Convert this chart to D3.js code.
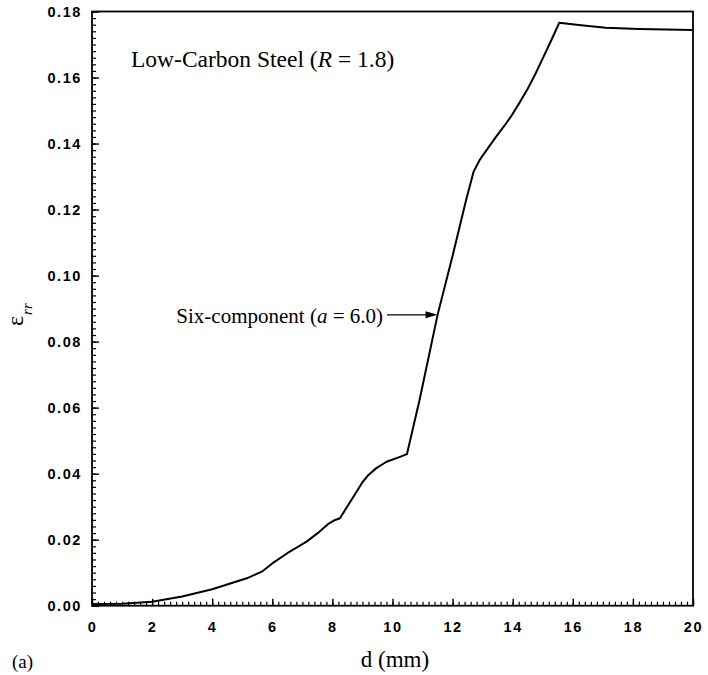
<!DOCTYPE html>
<html><head><meta charset="utf-8">
<script src="https://cdn.jsdelivr.net/npm/d3@7"></script>
<style>body{margin:0;background:#fff}svg{display:block}</style>
</head><body><svg id="c" width="708" height="675"></svg>
<script>
// Data
const dValues = [0, 1, 2, 3, 4, 5.15, 5.65, 6.0, 6.5, 7.14, 7.5, 7.85, 8.05, 8.25, 8.7, 9.0, 9.2, 9.45, 9.8, 10.25, 10.48, 10.9, 11.5, 12.0, 12.45, 12.7, 12.9, 13.2, 13.45, 13.75, 14.0, 14.25, 14.5, 14.75, 15.0, 15.3, 15.55, 16.2, 17.1, 18.2, 20];
const strainValues = [0.0005, 0.0006, 0.0012, 0.0028, 0.005, 0.0083, 0.0103, 0.0128, 0.0159, 0.0194, 0.0219, 0.0247, 0.0258, 0.0265, 0.0330, 0.0374, 0.0396, 0.0416, 0.0436, 0.0451, 0.0459, 0.0623, 0.0881, 0.106, 0.1229, 0.1315, 0.135, 0.1389, 0.1421, 0.1457, 0.1490, 0.1527, 0.1566, 0.1610, 0.1658, 0.1716, 0.1766, 0.1759, 0.1751, 0.1747, 0.1744];
const xTickValues = [0, 2, 4, 6, 8, 10, 12, 14, 16, 18, 20];
const yTickValues = [0, 0.02, 0.04, 0.06, 0.08, 0.10, 0.12, 0.14, 0.16, 0.18];
const xMinorStep = 0.2;
const yMinorStep = 0.002;
const titleText = ["Low-Carbon Steel (", "R", " = 1.8)"];
const annotationText = ["Six-component (", "a", " = 6.0)"];
const annotationPoint = {d: 11.5, v: 0.0881};

const W = 708, H = 675;
const margin = {left: 92, top: 11.5, right: 15, bottom: 69.3};
const svg = d3.select("#c");
const x = d3.scaleLinear().domain([0, 20]).range([margin.left, W - margin.right]);
const y = d3.scaleLinear().domain([0, 0.18]).range([H - margin.bottom, margin.top]);

const tickFont = "'Liberation Sans', Arial, sans-serif";
const serif = "'Liberation Serif', 'Times New Roman', serif";

// minor ticks
const xMinor = d3.range(0, 20 + 1e-9, xMinorStep);
const yMinor = d3.range(0, 0.18 + 1e-9, yMinorStep);
svg.append("g").attr("transform", `translate(0,${y(0)})`)
  .call(d3.axisBottom(x).tickValues(xMinor).tickSize(-4).tickFormat(""))
  .call(g => g.select(".domain").remove())
  .call(g => g.selectAll("line").attr("stroke", "#000").attr("stroke-width", 1.2));
svg.append("g").attr("transform", `translate(${x(0)},0)`)
  .call(d3.axisLeft(y).tickValues(yMinor).tickSize(-4).tickFormat(""))
  .call(g => g.select(".domain").remove())
  .call(g => g.selectAll("line").attr("stroke", "#000").attr("stroke-width", 1.2));

// major ticks with labels
svg.append("g").attr("transform", `translate(0,${y(0)})`)
  .call(d3.axisBottom(x).tickValues(xTickValues).tickSize(-7).tickPadding(16).tickFormat(d3.format("d")))
  .call(g => g.select(".domain").remove())
  .call(g => g.selectAll("line").attr("stroke", "#000").attr("stroke-width", 1.4))
  .call(g => g.selectAll("text").attr("fill", "#000").style("font-family", tickFont)
      .style("font-weight", "bold").style("font-size", "14.5px").style("letter-spacing", "1.6px"));
svg.append("g").attr("transform", `translate(${x(0)},0)`)
  .call(d3.axisLeft(y).tickValues(yTickValues).tickSize(-7).tickPadding(10).tickFormat(d3.format(".2f")))
  .call(g => g.select(".domain").remove())
  .call(g => g.selectAll("line").attr("stroke", "#000").attr("stroke-width", 1.4))
  .call(g => g.selectAll("text").attr("fill", "#000").style("font-family", tickFont)
      .style("font-weight", "bold").style("font-size", "14.5px").style("letter-spacing", "1.6px"));

// frame
svg.append("rect")
  .attr("x", x(0)).attr("y", y(0.18))
  .attr("width", x(20) - x(0)).attr("height", y(0) - y(0.18))
  .attr("fill", "none").attr("stroke", "#000").attr("stroke-width", 1.8);

// curve
const pts = dValues.map((d, i) => [d, strainValues[i]]);
svg.append("path").datum(pts)
  .attr("fill", "none").attr("stroke", "#000").attr("stroke-width", 2)
  .attr("stroke-linejoin", "round")
  .attr("d", d3.line().x(p => x(p[0])).y(p => y(p[1])));

// title
const t = svg.append("text").attr("x", 131).attr("y", 67)
  .style("font-family", serif).style("font-size", "23.5px").attr("fill", "#000");
t.append("tspan").text(titleText[0]);
t.append("tspan").style("font-style", "italic").text(titleText[1]);
t.append("tspan").text(titleText[2]);

// annotation with arrow
const ax = x(annotationPoint.d), ay = y(annotationPoint.v);
const an = svg.append("text").attr("x", 383).attr("y", ay + 8).attr("text-anchor", "end")
  .style("font-family", serif).style("font-size", "21px").attr("fill", "#000");
an.append("tspan").text(annotationText[0]);
an.append("tspan").style("font-style", "italic").text(annotationText[1]);
an.append("tspan").text(annotationText[2]);
svg.append("line").attr("x1", 387).attr("x2", ax - 10).attr("y1", ay).attr("y2", ay)
  .attr("stroke", "#000").attr("stroke-width", 1.2);
svg.append("path")
  .attr("d", `M${ax},${ay} L${ax - 12},${ay - 3.5} L${ax - 12},${ay + 3.5} Z`)
  .attr("fill", "#000");

// axis titles
const yl = svg.append("text").attr("transform", "translate(23,326) rotate(-90)")
  .style("font-family", serif).attr("fill", "#000");
yl.append("tspan").style("font-size", "24px").text("ε");
yl.append("tspan").attr("dy", 9).attr("dx", 1).style("font-size", "15px").style("font-style", "italic").text("rr");

svg.append("text").attr("x", 395).attr("y", 667).attr("text-anchor", "middle")
  .style("font-family", serif).style("font-size", "23px").attr("fill", "#000").text("d (mm)");
svg.append("text").attr("x", 12).attr("y", 668)
  .style("font-family", serif).style("font-size", "19px").attr("fill", "#000").text("(a)");
</script>
</body></html>
